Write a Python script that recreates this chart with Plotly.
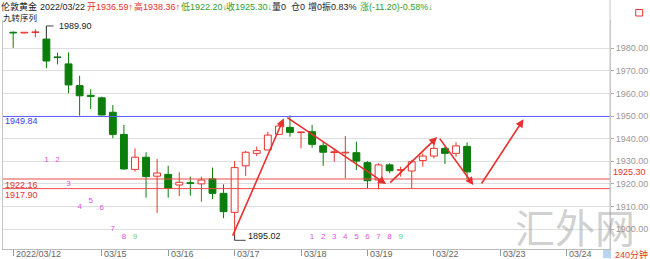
import plotly.graph_objects as go

# ---------------- data ----------------
opens  = [1987.0, 1986.8, 1987.0, 1984.1, 1976.1, 1973.1, 1963.5, 1959.2, 1958.1, 1951.7,
          1941.9, 1926.4, 1931.8, 1923.4, 1924.2, 1919.5, 1920.4, 1920.0, 1922.2, 1915.8,
          1907.4, 1928.0, 1933.5, 1935.0, 1941.9, 1945.0, 1942.7, 1943.1, 1936.9, 1933.9,
          1933.7, 1933.8, 1929.4, 1921.7, 1928.4, 1926.0, 1925.7, 1930.3, 1932.3, 1935.7,
          1933.5, 1936.59]
highs  = [1987.5, 1987.1, 1988.4, 1989.90, 1978.1, 1978.2, 1967.9, 1961.9, 1958.6, 1954.9,
          1946.1, 1935.7, 1934.0, 1931.0, 1928.0, 1925.1, 1923.2, 1923.2, 1927.2, 1919.8,
          1930.1, 1934.6, 1936.5, 1943.1, 1946.8, 1950.3, 1943.0, 1946.1, 1938.7, 1935.7,
          1941.2, 1938.7, 1930.1, 1929.1, 1929.1, 1927.6, 1930.6, 1933.5, 1937.9, 1936.5,
          1938.4, 1938.36]
lows   = [1980.2, 1986.7, 1984.9, 1971.2, 1972.9, 1960.1, 1950.2, 1953.1, 1950.3, 1940.2,
          1926.3, 1925.4, 1913.9, 1907.2, 1913.9, 1914.6, 1914.8, 1912.1, 1913.2, 1904.8,
          1895.02, 1923.5, 1932.3, 1934.8, 1941.6, 1940.9, 1935.7, 1936.0, 1928.0, 1929.8,
          1922.5, 1926.1, 1918.0, 1917.6, 1924.7, 1923.2, 1918.0, 1927.6, 1931.3, 1928.8,
          1932.0, 1922.20]
closes = [1986.8, 1987.0, 1987.2, 1974.4, 1975.9, 1963.8, 1959.0, 1958.7, 1950.5, 1941.9,
          1926.6, 1931.8, 1923.2, 1924.8, 1918.0, 1920.7, 1920.2, 1921.7, 1915.8, 1907.7,
          1927.2, 1934.0, 1934.7, 1941.6, 1945.6, 1942.8, 1942.9, 1937.5, 1934.0, 1934.1,
          1933.9, 1930.1, 1921.4, 1928.4, 1925.8, 1926.2, 1929.8, 1932.3, 1935.7, 1933.5,
          1936.8, 1925.30]

date_tick_idx = [0, 8, 14, 20, 26, 32, 38, 44, 50]
date_tick_txt = ["2022/03/12", "03/15", "03/16", "03/17", "03/18", "03/19", "03/22", "03/23", "03/24"]

y_ticks = [1900, 1910, 1920, 1930, 1940, 1950, 1960, 1970, 1980]

ref_blue = 1949.84
ref_red = [1922.16, 1917.90]
last_close = 1925.30

seq1_idx = [3, 4, 5, 6, 7, 8, 9, 10, 11]
seq1_price = [1930.6, 1930.6, 1919.8, 1909.9, 1912.5, 1909.5, 1899.9, 1896.5, 1896.5]
seq2_idx = [27, 28, 29, 30, 31, 32, 33, 34, 35]
seq2_price = [1896.6] * 9
seq_labels = ["1", "2", "3", "4", "5", "6", "7", "8", "9"]

# header segments: (text, colour key)
header_parts = ["伦敦黄金", "2022/03/22", "开1936.59↑", "高1938.36↑", "低1922.20↓", "收1925.30↓",
                "量0", "仓0", "增0", "振0.83%", "涨(-11.20)-0.58%↓"]
header_cols = ["k", "k", "r", "r", "g", "g", "k", "k", "k", "k", "g"]
header_x = [0, 39, 87, 134, 181.5, 227.5, 274, 293, 310, 324, 362.5]   # pixel starts

# trend arrows: (tail_idx, tail_price, tip_idx, tip_price)
arrows = [
    (19.77, 1896.4, 24.44, 1949.0),
    (24.62, 1949.8, 33.69, 1919.9),
    (33.92, 1919.9, 38.30, 1940.7),
    (38.43, 1940.7, 41.57, 1919.5),
    (42.22, 1919.5, 46.10, 1948.6),
]

# ---------------- geometry helpers ----------------
W, H = 650, 259
L_PX, R_PX, T_PX, B_PX = 2, 615, 20, 249
def pxx(x): return (x - L_PX) / (R_PX - L_PX)
def pxy(y): return (B_PX - y) / (B_PX - T_PX)

X0, DX = 12.3, 11.18
x_range = [(L_PX - X0) / DX, (R_PX - X0) / DX]
PPU = 2.259
Y1950 = 116.1
y_range = [1950 - (B_PX - Y1950) / PPU, 1950 + (Y1950 - T_PX) / PPU]

RED = "#e8322c"
GREEN = "#0a7d0a"
FONT = "Liberation Sans, Noto Sans CJK SC, sans-serif"
COLMAP = {"k": "#222222", "r": RED, "g": "#2f9e2f"}

idx = list(range(len(opens)))
up = [i for i in idx if closes[i] >= opens[i]]
dn = [i for i in idx if closes[i] < opens[i]]

def wick_xy(ids):
    xs, ys = [], []
    for i in ids:
        top = max(opens[i], closes[i]); bot = min(opens[i], closes[i])
        xs += [i, i, None, i, i, None]
        ys += [highs[i], top, None, bot, lows[i], None]
    return xs, ys

fig = go.Figure()
for ids, col, fill in [(up, RED, "white"), (dn, GREEN, GREEN)]:
    wx, wy = wick_xy(ids)
    fig.add_trace(go.Scatter(x=wx, y=wy, mode="lines", line=dict(color=col, width=1),
                             hoverinfo="skip", showlegend=False))
    fig.add_trace(go.Bar(
        x=ids,
        base=[min(opens[i], closes[i]) for i in ids],
        y=[max(abs(closes[i] - opens[i]), 0.3) for i in ids],
        width=0.62,
        marker=dict(color=fill, line=dict(color=col, width=1)),
        showlegend=False, hoverinfo="skip"))

# high / low markers
fig.add_trace(go.Scatter(x=[3, 3, 3.65], y=[max(opens[3], closes[3]), highs[3], highs[3]],
                         mode="lines", line=dict(color="#444", width=1), showlegend=False))
fig.add_trace(go.Scatter(x=[20, 20, 21.0], y=[1897.5, lows[20], lows[20]],
                         mode="lines", line=dict(color="#444", width=1), showlegend=False))

# nine-turn sequence labels
seq_colors = ["#e050e0"] * 8 + ["#66cc66"]
for sidx, sprice in [(seq1_idx, seq1_price), (seq2_idx, seq2_price)]:
    fig.add_trace(go.Scatter(x=sidx, y=sprice, mode="text", text=seq_labels,
                             textfont=dict(size=8, color=seq_colors, family=FONT),
                             showlegend=False, hoverinfo="skip"))

shapes = []
shapes.append(dict(type="line", xref="paper", yref="y", x0=0, x1=1, y0=ref_blue, y1=ref_blue,
                   line=dict(color="#5a5aff", width=1)))
for v in ref_red:
    shapes.append(dict(type="line", xref="paper", yref="y", x0=0, x1=1, y0=v, y1=v,
                       line=dict(color="#f04848", width=1)))
shapes.append(dict(type="line", xref="paper", yref="paper", x0=1, x1=1, y0=pxy(259), y1=pxy(0),
                   line=dict(color="#c4c4c4", width=1)))
shapes.append(dict(type="rect", xref="paper", yref="paper", x0=pxx(641), x1=pxx(648),
                   y0=pxy(16), y1=pxy(9.5), line=dict(color=RED, width=1)))
shapes.append(dict(type="rect", xref="paper", yref="paper", x0=pxx(608), x1=pxx(616),
                   y0=pxy(258), y1=pxy(250), fillcolor="#b9d5f2", line=dict(width=0)))

ann = []
for txt, ck, hx in zip(header_parts, header_cols, header_x):
    ann.append(dict(text=txt, xref="paper", yref="paper", x=pxx(hx - 1), y=pxy(7), xanchor="left",
                    yanchor="middle", showarrow=False, borderpad=0,
                    font=dict(size=9, color=COLMAP[ck], family=FONT)))
ann.append(dict(text="九转序列", xref="paper", yref="paper", x=pxx(1), y=pxy(18.5), xanchor="left",
                yanchor="middle", showarrow=False, borderpad=0,
                font=dict(size=8.5, color="#222", family=FONT)))
ann.append(dict(text=f"{highs[3]:.2f}", x=4.0, y=highs[3], xanchor="left", yanchor="middle",
                showarrow=False, font=dict(size=9, color="#222", family=FONT)))
ann.append(dict(text=f"{lows[20]:.2f}", x=21.05, y=1896.8, xanchor="left", yanchor="middle",
                showarrow=False, font=dict(size=9, color="#222", family=FONT)))
ann.append(dict(text=f"{ref_blue:.2f}", xref="paper", x=pxx(2), y=ref_blue, yshift=2, xanchor="left",
                yanchor="top", showarrow=False, font=dict(size=9, color="#4040e0", family=FONT)))
for v in ref_red:
    ann.append(dict(text=f"{v:.2f}", xref="paper", x=pxx(2), y=v, yshift=1, xanchor="left",
                    yanchor="top", showarrow=False, font=dict(size=9, color=RED, family=FONT)))
ann.append(dict(text=f"{last_close:.2f}", xref="paper", x=1, xshift=1, y=last_close, xanchor="left",
                yanchor="middle", showarrow=False, font=dict(size=9, color=RED, family=FONT)))
ann.append(dict(text="240分钟", xref="paper", yref="paper", x=pxx(618), y=pxy(254.5), xanchor="left",
                yanchor="middle", showarrow=False, font=dict(size=9, color="#e0401a", family=FONT)))
for ti, tt in zip(date_tick_idx, date_tick_txt):
    ann.append(dict(text=tt, x=ti + 0.05, yref="paper", y=pxy(254.5), xanchor="left", yanchor="middle",
                    showarrow=False, font=dict(size=9, color="#666", family=FONT)))
for tx, ty, hx, hy in arrows:
    ann.append(dict(x=hx, y=hy, ax=tx, ay=ty, axref="x", ayref="y", text="", showarrow=True,
                    arrowhead=2, arrowsize=1, arrowwidth=1.6, arrowcolor="#e83030", standoff=0))
ann.append(dict(text="汇外网", xref="paper", yref="paper", x=pxx(580), y=pxy(226), xanchor="center",
                yanchor="middle", showarrow=False,
                font=dict(size=40, color="rgba(150,150,150,0.45)", family="Noto Sans CJK SC")))

fig.update_layout(
    width=W, height=H, autosize=False,
    margin=dict(l=L_PX, r=W - R_PX, t=T_PX, b=H - B_PX, pad=0),
    paper_bgcolor="white", plot_bgcolor="white",
    barmode="overlay", showlegend=False,
    shapes=shapes, annotations=ann,
    xaxis=dict(range=x_range, showgrid=False, zeroline=False, tickvals=date_tick_idx,
               ticktext=[""] * len(date_tick_idx), ticks="outside", ticklen=6, tickcolor="#999",
               showline=True, linecolor="#bbbbbb", linewidth=1, fixedrange=True),
    yaxis=dict(range=y_range, side="right", tickvals=y_ticks,
               ticktext=[f"{v:.2f}" for v in y_ticks], showgrid=True, gridcolor="#dedede",
               gridwidth=1, zeroline=False, ticks="outside", ticklen=3, tickcolor="#aaa",
               tickfont=dict(size=9, color="#999", family=FONT),
               showline=True, linecolor="#c4c4c4", mirror=True, fixedrange=True),
)

fig.write_html("out.html")
